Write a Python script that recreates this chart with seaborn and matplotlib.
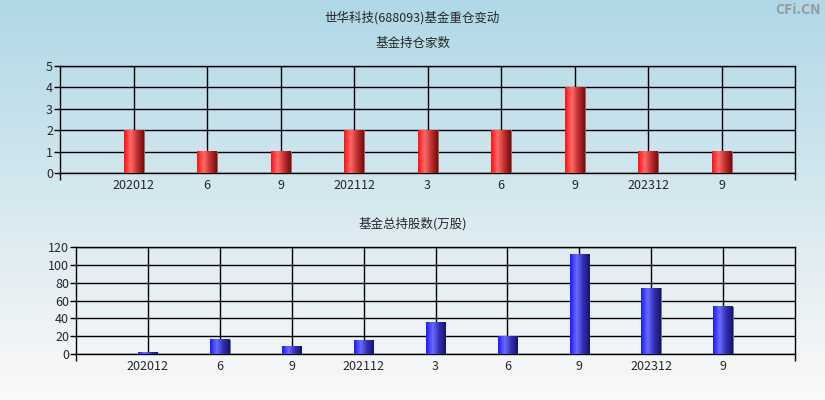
import numpy as np
import pandas as pd
import matplotlib
matplotlib.use('Agg')
import matplotlib.pyplot as plt
from matplotlib.colors import LinearSegmentedColormap
import seaborn as sns

# data
periods = ['2020-12', '2021-06', '2021-09', '2021-12', '2022-03', '2022-06', '2022-09', '2023-12', '2024-09']
tick_labels = ['202012', '6', '9', '202112', '3', '6', '9', '202312', '9']
fund_count = [2, 1, 1, 2, 2, 2, 4, 1, 1]
fund_shares = [1.5, 16, 8, 15, 35, 20, 112, 74, 53]

sns.set_theme(style='white')
plt.rcParams['font.family'] = ['Noto Sans CJK SC', 'DejaVu Sans']
plt.rcParams['axes.unicode_minus'] = False

fig = plt.figure(figsize=(8.25, 4), dpi=100)

# background gradient
bg = fig.add_axes([0, 0, 1, 1], zorder=-10)
bg_cmap = LinearSegmentedColormap.from_list('bg', [(176 / 255, 216 / 255, 230 / 255), (252 / 255, 249 / 255, 249 / 255)])
bg.imshow(np.linspace(0, 1, 256).reshape(-1, 1), aspect='auto', cmap=bg_cmap, extent=[0, 1, 0, 1])
bg.axis('off')

red_cmap = LinearSegmentedColormap.from_list('red', ['#ff1010', '#ff6a6a', '#c03030', '#7a0a0a'])
blue_cmap = LinearSegmentedColormap.from_list('blue', ['#1a1aff', '#6a6aff', '#3030b0', '#141470'])


def draw_panel(rect, values, cmap, ylim, yticks):
    ax = fig.add_axes(rect)
    ax.patch.set_alpha(0)
    df = pd.DataFrame({'period': periods, 'value': values})
    sns.barplot(data=df, x='period', y='value', order=periods, width=0.27, ax=ax)
    grad = np.linspace(0, 1, 64).reshape(1, -1)
    for p in list(ax.patches):
        x0, y0 = p.get_x(), p.get_y()
        w, h = p.get_width(), p.get_height()
        p.set_visible(False)
        # shadow on the right edge
        ax.fill_between([x0 + w, x0 + w + 0.015], y0, y0 + h, color='#777777', zorder=3, linewidth=0)
        ax.imshow(grad, aspect='auto', cmap=cmap, extent=[x0, x0 + w, y0, y0 + h], zorder=3)
    ax.set_xlim(-1, len(periods))
    ax.set_ylim(*ylim)
    ax.set_yticks(yticks)
    ax.set_xticks(range(len(periods)))
    ax.set_xticklabels(tick_labels)
    ax.set_xticks([-1, len(periods)], minor=True)
    ax.grid(True, color='black', linewidth=1, zorder=1)
    ax.set_axisbelow(True)
    for s in ax.spines.values():
        s.set_visible(True)
        s.set_color('black')
        s.set_linewidth(1)
    ax.tick_params(axis='y', which='major', direction='out', length=4, width=1, color='black',
                   labelsize=9, pad=1, left=True)
    ax.tick_params(axis='x', which='major', length=0, labelsize=9, pad=4)
    ax.tick_params(axis='x', which='minor', direction='out', length=5, width=1, color='black', bottom=True)
    ax.set_xlabel('')
    ax.set_ylabel('')
    return ax


draw_panel([60 / 825, 1 - 173 / 400, 735 / 825, 107 / 400], fund_count, red_cmap, (0, 5), range(0, 6))
draw_panel([76 / 825, 1 - 354 / 400, 719 / 825, 107 / 400], fund_shares, blue_cmap, (0, 120), range(0, 121, 20))

fig.text(0.5, 1 - 18 / 400, '世华科技(688093)基金重仓变动', ha='center', va='center', fontsize=9)
fig.text(0.5, 1 - 43 / 400, '基金持仓家数', ha='center', va='center', fontsize=9)
fig.text(0.5, 1 - 224 / 400, '基金总持股数(万股)', ha='center', va='center', fontsize=9)
fig.text(0.995, 1 - 10 / 400, 'CFi.CN', ha='right', va='center', fontsize=10, color='#999999',
         fontweight='bold')

fig.savefig('out.png', dpi=100)
